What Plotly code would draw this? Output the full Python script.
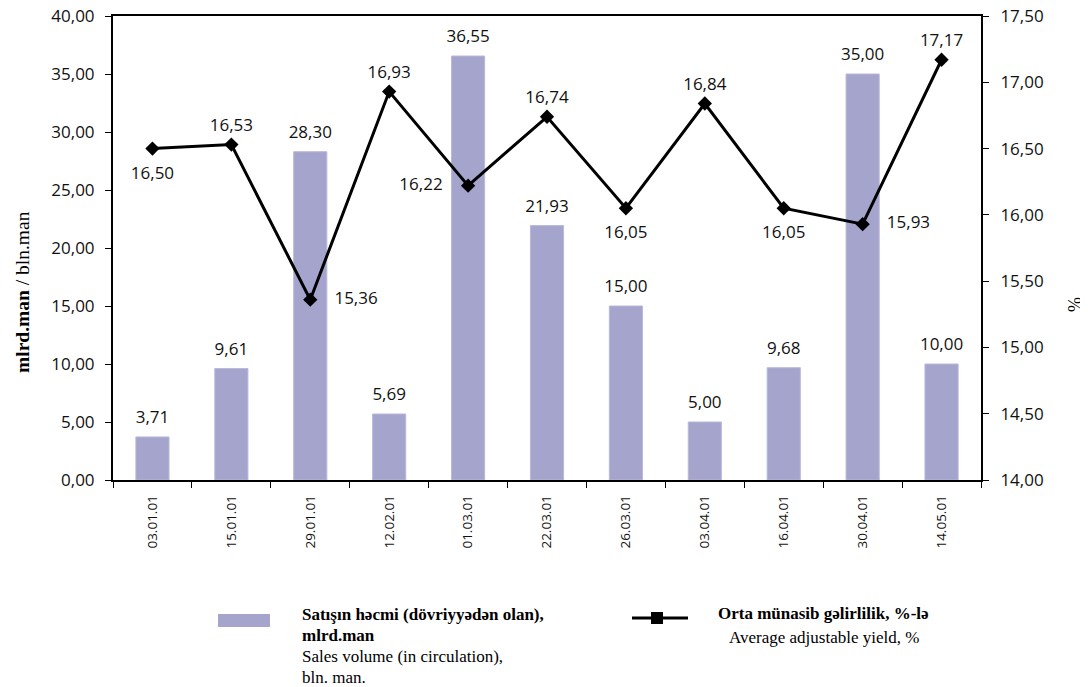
import plotly.graph_objects as go

dates = ["03.01.01", "15.01.01", "29.01.01", "12.02.01", "01.03.01", "22.03.01",
         "26.03.01", "03.04.01", "16.04.01", "30.04.01", "14.05.01"]
sales = [3.71, 9.61, 28.30, 5.69, 36.55, 21.93, 15.00, 5.00, 9.68, 35.00, 10.00]
yield_pct = [16.50, 16.53, 15.36, 16.93, 16.22, 16.74, 16.05, 16.84, 16.05, 15.93, 17.17]
yield_label_pos = ["bottom center", "top center", "middle right", "top center", "middle left",
                   "top center", "bottom center", "top center", "bottom center", "middle right",
                   "top center"]

# label offset (invisible marker size) per label position
offset_by_pos = {"top center": 14, "bottom center": 26, "middle right": 30, "middle left": 32}

tick_font = dict(family="Open Sans", size=17, color="#111")

def fmt(v):
    return f"{v:.2f}".replace(".", ",")

# page body has an 8px margin: figure is shifted by 8px, so size/margins compensate
W, H = 1080, 679
L, R, T, B = 105, 107, 8, 207

fig = go.Figure()
fig.add_trace(go.Bar(
    x=dates, y=sales, width=0.42,
    marker=dict(color="#A4A4CD", line=dict(color="#B8B8DA", width=1)),
    showlegend=False, hoverinfo="y",
))
fig.add_trace(go.Scatter(
    x=dates, y=sales, mode="markers+text",
    marker=dict(size=14, opacity=0),
    text=[fmt(v) for v in sales], textposition="top center",
    textfont=tick_font, cliponaxis=False, showlegend=False, hoverinfo="skip",
))
fig.add_trace(go.Scatter(
    x=dates, y=yield_pct, yaxis="y2", mode="lines+markers",
    line=dict(color="black", width=3),
    marker=dict(symbol="diamond", size=11, color="black"),
    cliponaxis=False, showlegend=False,
))
fig.add_trace(go.Scatter(
    x=dates, y=yield_pct, yaxis="y2", mode="markers+text",
    marker=dict(size=[offset_by_pos[p] for p in yield_label_pos], opacity=0),
    text=[" " + fmt(v) + " " for v in yield_pct],
    textposition=yield_label_pos, textfont=tick_font, cliponaxis=False,
    showlegend=False, hoverinfo="skip",
))

fig.update_layout(
    width=W, height=H,
    margin=dict(l=L, r=R, t=T, b=B),
    paper_bgcolor="white", plot_bgcolor="white",
    separators=",.",
    bargap=0.5,
    xaxis=dict(
        type="category", range=[-0.5, len(dates) - 0.5],
        tickangle=-90, tickson="boundaries", automargin=False,
        ticks="outside", ticklen=6, tickcolor="black", ticklabelstandoff=8,
        showline=True, linecolor="black", linewidth=1.5, mirror=True,
        tickfont=dict(family="Open Sans", size=13.5, color="#111"),
        showgrid=False,
    ),
    yaxis=dict(
        range=[0, 40], dtick=5, tickformat=".2f", automargin=False,
        ticklabeloverflow="allow", ticklabelstandoff=7,
        ticks="outside", ticklen=6, tickcolor="black",
        showline=True, linecolor="black", linewidth=2,
        showgrid=False, zeroline=False, tickfont=tick_font,
    ),
    yaxis2=dict(
        range=[14, 17.5], dtick=0.5, tickformat=".2f", overlaying="y", side="right",
        automargin=False, ticklabeloverflow="allow", ticklabelstandoff=8,
        ticks="outside", ticklen=6, tickcolor="black",
        showline=True, linecolor="black", linewidth=2,
        showgrid=False, zeroline=False, tickfont=tick_font,
    ),
)

PW, PH = W - L - R, H - T - B

def px(xp):
    return (xp - 8 - L) / PW

def py(yp):
    return (H - B - (yp - 8)) / PH

serif = "Liberation Serif"
# axis titles
fig.add_annotation(xref="paper", yref="paper", x=px(22), y=py(292), textangle=-90,
                   showarrow=False, xanchor="center", yanchor="middle",
                   text="<b>mlrd.man</b> / bln.man",
                   font=dict(family=serif, size=19.5, color="black"))
fig.add_annotation(xref="paper", yref="paper", x=px(1075), y=py(305), textangle=-90,
                   showarrow=False, xanchor="center", yanchor="middle",
                   text="%", font=dict(family=serif, size=18, color="black"))

# legend: bar swatch
fig.add_shape(type="rect", xref="paper", yref="paper",
              x0=px(218), x1=px(270), y0=py(627), y1=py(614),
              fillcolor="#A4A4CD", line=dict(width=0))
# legend: line + square marker
fig.add_shape(type="line", xref="paper", yref="paper",
              x0=px(632), x1=px(688), y0=py(618), y1=py(618),
              line=dict(color="black", width=3))
fig.add_shape(type="rect", xref="paper", yref="paper",
              x0=px(651), x1=px(663), y0=py(624), y1=py(612),
              fillcolor="black", line=dict(width=0))

legend_lines = [
    (300, 614, "<b>Satışın həcmi (dövriyyədən olan),</b>"),
    (300, 635, "<b>mlrd.man</b>"),
    (300, 656, "Sales volume (in circulation),"),
    (300, 677, "bln. man."),
    (716, 613, "<b>Orta münasib gəlirlilik, %-lə</b>"),
    (727, 637, "Average adjustable yield, %"),
]
for xp_, yp_, txt in legend_lines:
    fig.add_annotation(xref="paper", yref="paper", x=px(xp_), y=py(yp_),
                       xanchor="left", yanchor="middle", showarrow=False,
                       text=txt, font=dict(family=serif, size=17, color="black"))

fig.write_html("out.html")
